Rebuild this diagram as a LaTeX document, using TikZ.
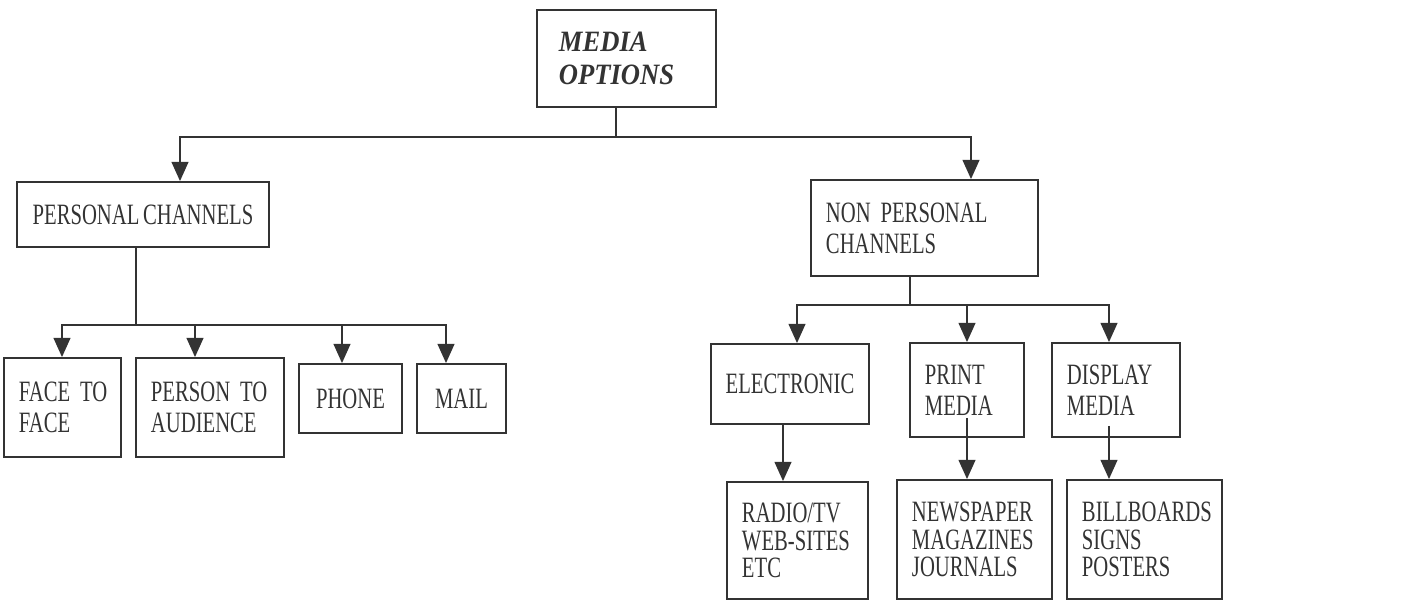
\documentclass[tikz,border=0pt]{standalone}
\usepackage{fontspec}
\setmainfont{Liberation Serif}[FakeStretch=0.7,WordSpace=0.7]
\newfontfamily\mediafont{Liberation Serif}[FakeStretch=0.9]
\usetikzlibrary{arrows.meta}
\definecolor{ink}{HTML}{333333}
\tikzset{
  box/.style={draw=ink,line width=1.3pt,text=ink,inner xsep=0.375cm,inner ysep=0pt,
    font=\fontsize{21}{22}\selectfont},
  lbox/.style={box,align=left},
  cbox/.style={box,align=center},
  arr/.style={draw=ink,line width=1.3pt,-{Triangle[width=0.42cm,length=0.48cm]}},
  link/.style={draw=ink,line width=1.3pt}
}
\begin{document}
\begin{tikzpicture}[x=0.025cm,y=-0.025cm]
  \useasboundingbox (0,0) rectangle (1428,601);
  % top
  \node[lbox,inner xsep=0.55cm,text width=3.375cm,minimum height=2.425cm,
    font=\mediafont\fontsize{21}{23}\selectfont\bfseries\itshape] (media) at (626.5,58.5) {MEDIA\\OPTIONS};
  % second level
  \node[cbox,minimum width=6.3cm,minimum height=1.625cm] (personal) at (143,214.5) {PERSONAL CHANNELS};
  \node[lbox,text width=4.925cm,minimum height=2.4cm] (nonpers) at (924.5,228) {NON PERSONAL\\CHANNELS};
  % personal channels
  \node[lbox,text width=2.175cm,minimum height=2.475cm] (face) at (62.5,407.5) {FACE~TO\\FACE};
  \node[lbox,text width=2.95cm,minimum height=2.475cm] (person) at (210,407.5) {PERSON~TO\\AUDIENCE};
  \node[cbox,minimum width=2.575cm,minimum height=1.725cm] (phone) at (350.5,398.5) {PHONE};
  \node[cbox,minimum width=2.225cm,minimum height=1.725cm] (mail) at (461.5,398.5) {MAIL};
  % non personal channels
  \node[cbox,minimum width=3.9cm,minimum height=2cm] (elec) at (790,384) {ELECTRONIC};
  \node[lbox,text width=2.1cm,minimum height=2.35cm] (print) at (967,390) {PRINT\\MEDIA};
  \node[lbox,text width=2.45cm,minimum height=2.35cm] (display) at (1116,390) {DISPLAY\\MEDIA};
  \node[lbox,text width=2.775cm,minimum height=2.925cm,font=\fontsize{21}{19.4}\selectfont] (radio) at (797.5,540.5) {RADIO/TV\\WEB-SITES\\ETC};
  \node[lbox,text width=3.125cm,minimum height=2.975cm,font=\fontsize{21}{19.4}\selectfont] (news) at (974.5,539.5) {NEWSPAPER\\MAGAZINES\\JOURNALS};
  \node[lbox,text width=3.125cm,minimum height=2.975cm,font=\fontsize{21}{19.4}\selectfont] (bill) at (1144.5,539.5) {BILLBOARDS\\SIGNS\\POSTERS};
  % connectors
  \coordinate (j1) at (616,137);
  \coordinate (j2) at (136,325);
  \coordinate (j3) at (910,305);
  \draw[link] (media.south -| j1) -- (j1);
  \draw[arr] (j1) -| (personal.north -| 180,0);
  \draw[arr] (j1) -| (nonpers.north -| 971,0);
  \draw[link] (personal.south -| j2) -- (j2);
  \draw[link] (62,325) -- (446,325);
  \draw[arr] (j2) -| (face.north -| 62,0);
  \draw[arr] (j2) -| (person.north -| 195,0);
  \draw[arr] (j2) -| (phone.north -| 342,0);
  \draw[arr] (j2) -| (mail.north -| 446,0);
  \draw[link] (nonpers.south -| j3) -- (j3);
  \draw[arr] (j3) -| (elec.north -| 797,0);
  \draw[arr] (j3) -| (print.north);
  \draw[arr] (j3) -| (display.north -| 1109,0);
  \draw[arr] (elec.south -| 783,0) -- (radio.north -| 783,0);
  \draw[arr] ([yshift=0.5cm]print.south) -- (news.north -| print.south);
  \draw[arr] ([yshift=0.3cm]display.south -| 1109,0) -- (bill.north -| 1109,0);
\end{tikzpicture}
\end{document}
